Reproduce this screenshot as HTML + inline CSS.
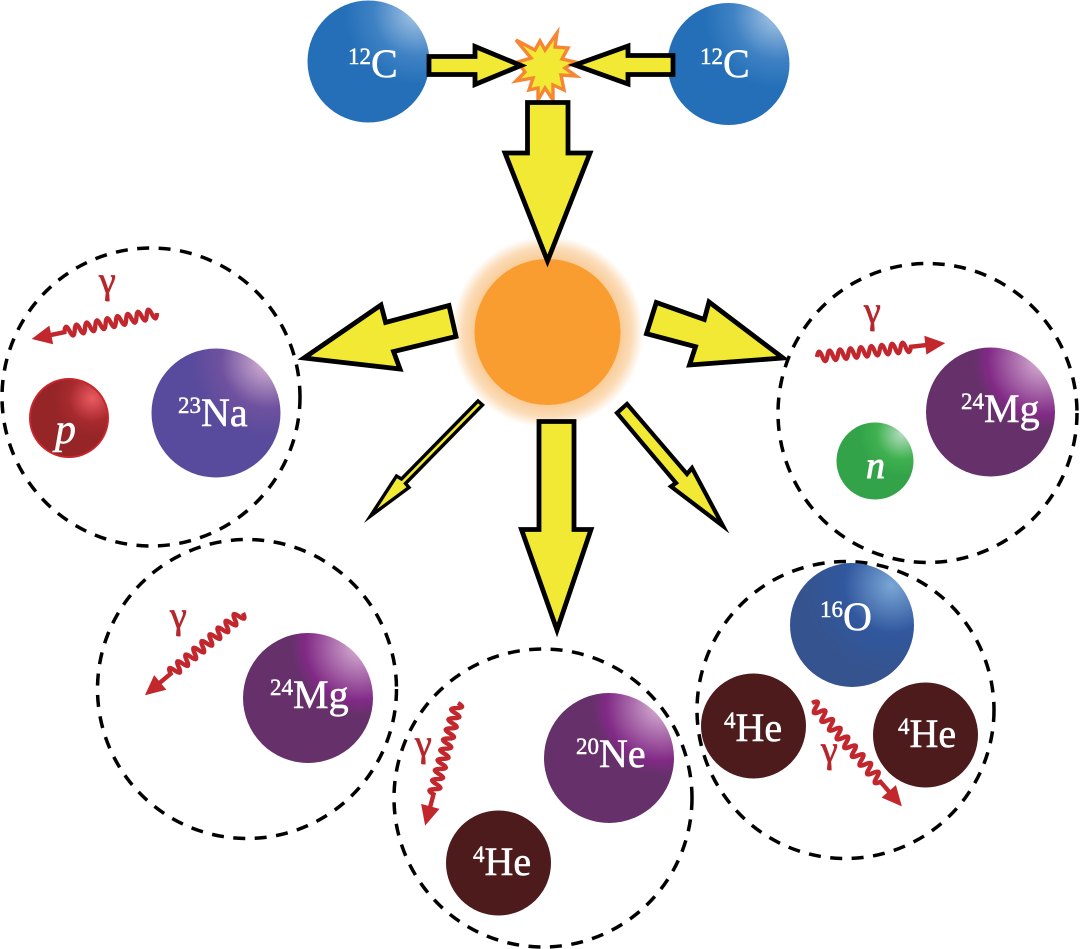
<!DOCTYPE html>
<html><head><meta charset="utf-8"><style>
html,body{margin:0;padding:0;background:#fff}
svg{display:block}
text{font-family:"Liberation Serif",serif}
.l{fill:#fff;stroke:#fff;stroke-width:.5;font-size:40px}
.l tspan.s{font-size:23px}
.g{fill:#b5272d;stroke:#b5272d;stroke-width:.7;font-size:38px}
.a{fill:#f1e933;stroke:#000;stroke-width:4.8;stroke-miterlimit:20;stroke-linejoin:miter}
.d{fill:none;stroke:#000;stroke-width:3.5;stroke-dasharray:12 9.5}
.w{fill:none;stroke:#c1272d;stroke-width:4.4}
.h{fill:#c1272d}
</style></head><body>
<svg width="1080" height="949" viewBox="0 0 1080 949" xmlns="http://www.w3.org/2000/svg">
<defs>
<radialGradient id="blue" cx=".9" cy=".1" r=".6"><stop offset="0" stop-color="#a9c7e6"/><stop offset=".6" stop-color="#3f82c4"/><stop offset="1" stop-color="#246fb8"/></radialGradient>
<radialGradient id="na" cx=".9" cy=".1" r=".6"><stop offset="0" stop-color="#d9b7d6"/><stop offset=".6" stop-color="#6f519f"/><stop offset="1" stop-color="#584a9c"/></radialGradient>
<radialGradient id="mg" cx=".9" cy=".1" r=".62"><stop offset="0" stop-color="#d9b5d6"/><stop offset=".68" stop-color="#812a86"/><stop offset=".85" stop-color="#66306a"/><stop offset="1" stop-color="#66306a"/></radialGradient>
<radialGradient id="grn" cx=".85" cy=".15" r=".55"><stop offset="0" stop-color="#b5dcc0"/><stop offset=".6" stop-color="#3fb14f"/><stop offset="1" stop-color="#33a34a"/></radialGradient>
<radialGradient id="red" cx=".8" cy=".25" r=".5"><stop offset="0" stop-color="#ea5a60"/><stop offset=".6" stop-color="#a72a2e"/><stop offset="1" stop-color="#952527"/></radialGradient>
<radialGradient id="oxy" cx=".82" cy=".18" r=".7"><stop offset="0" stop-color="#7aa7d6"/><stop offset=".55" stop-color="#31579e"/><stop offset="1" stop-color="#35548f"/></radialGradient>
<radialGradient id="glow" gradientUnits="userSpaceOnUse" cx="547.5" cy="332" r="96"><stop offset=".76" stop-color="#f9cc98"/><stop offset=".88" stop-color="#fbdcb8"/><stop offset="1" stop-color="#fff"/></radialGradient>
</defs>
<rect width="1080" height="949" fill="#fff"/>

<circle class="d" cx="151" cy="397" r="149"/>
<circle class="d" cx="927.5" cy="413" r="149.5"/>
<circle class="d" cx="845.5" cy="710" r="148.5"/>
<circle class="d" cx="543" cy="798" r="149"/>
<circle class="d" cx="247" cy="689" r="149.5"/>

<circle cx="368.5" cy="61.5" r="61" fill="url(#blue)"/>
<circle cx="728.5" cy="64" r="61" fill="url(#blue)"/>
<circle cx="547.5" cy="332" r="96" fill="url(#glow)"/>
<circle cx="547.5" cy="332" r="73" fill="#f99d31"/>

<polygon points="557,33 555,47 568,48 562,59 575,62 565,68 576,76 561,75 564,90 553,85 553,100 545,88 538,100 538,88 529,90 533,78 516,81 525,72 518,62 531,58 516,40 535,50 540,41 545,50" fill="#f1e933" stroke="#f58634" stroke-width="3.4" stroke-miterlimit="5"/>

<polygon class="a" points="429,56.5 475,56.5 475,46.5 521,65.5 475,84.5 475,74.5 429,74.5"/>
<polygon class="a" points="673,55.5 628,55.5 628,46 575,65 628,84 628,74.5 673,74.5"/>
<polygon class="a" points="527.5,102.5 568,102.5 568,153 590,153 547.5,261 505,153 527.5,153"/>
<polygon class="a" points="449,305.5 456,336.5 393.6,351.6 400,369 304,358 381,305 385.6,322.4"/>
<polygon class="a" points="656.3,302.5 646.5,333.7 695.5,346.7 689.5,365 783,358 709,302 704.3,319.5"/>
<polygon class="a" style="stroke-width:3.4" points="478,401 482.5,405 405.5,483.5 409,487.5 370.5,516 396.5,476 401.5,479"/>
<polygon class="a" points="539,421.5 574,421.5 574,529.5 591,529.5 557,630 521.5,529.5 539,529.5"/>
<polygon class="a" style="stroke-width:4.2" points="627,404 617,413 676,483 671,486.5 723,526 692,468 687,474"/>

<circle cx="216" cy="413" r="64.5" fill="url(#na)"/>
<circle cx="69" cy="418" r="39" fill="url(#red)" stroke="#c9252c" stroke-width="2"/>
<circle cx="990.5" cy="412" r="64.5" fill="url(#mg)"/>
<circle cx="875" cy="461" r="38.5" fill="url(#grn)"/>
<circle cx="852" cy="625" r="62" fill="url(#oxy)"/>
<circle cx="753.5" cy="726" r="52.5" fill="#4e1b1c"/>
<circle cx="925.5" cy="735" r="52.5" fill="#4e1b1c"/>
<circle cx="609" cy="758" r="65" fill="url(#mg)"/>
<circle cx="498.5" cy="863" r="52.5" fill="#4e1b1c"/>
<circle cx="308" cy="698" r="65" fill="url(#mg)"/>

<text class="l" x="348" y="77"><tspan class="s" dy="-13">12</tspan><tspan dy="13">C</tspan></text>
<text class="l" x="700" y="77"><tspan class="s" dy="-13">12</tspan><tspan dy="13">C</tspan></text>
<text class="l" x="178" y="426"><tspan class="s" dy="-13">23</tspan><tspan dy="13">Na</tspan></text>
<text class="l" x="961" y="422"><tspan class="s" dy="-13">24</tspan><tspan dy="13">Mg</tspan></text>
<text class="l" x="270" y="708"><tspan class="s" dy="-13">24</tspan><tspan dy="13">Mg</tspan></text>
<text class="l" x="576" y="767"><tspan class="s" dy="-13">20</tspan><tspan dy="13">Ne</tspan></text>
<text class="l" x="820" y="630"><tspan class="s" dy="-13">16</tspan><tspan dy="13">O</tspan></text>
<text class="l" x="724" y="741"><tspan class="s" dy="-13">4</tspan><tspan dy="13">He</tspan></text>
<text class="l" x="898" y="747"><tspan class="s" dy="-13">4</tspan><tspan dy="13">He</tspan></text>
<text class="l" x="473" y="875"><tspan class="s" dy="-13">4</tspan><tspan dy="13">He</tspan></text>
<text class="l" x="55" y="443" style="font-style:italic;font-size:42px">p</text>
<text class="l" x="866" y="478" style="font-style:italic;font-size:38px;stroke-width:.9">n</text>

<g transform="translate(157,313) rotate(168.3)"><path class="w" d="M0 0q2.6 -10 5.25 0t5.25 0t5.25 0t5.25 0t5.25 0t5.25 0t5.25 0t5.25 0t5.25 0t5.25 0t5.25 0t5.25 0t5.25 0t5.25 0t5.25 0t5.25 0t5.25 0t5.25 0L110 0"/><polygon class="h" points="108,-9.5 128,0 108,9.5"/></g>
<g transform="translate(817,357) rotate(-6.2)"><path class="w" d="M0 0q2.6 -10 5.25 0t5.25 0t5.25 0t5.25 0t5.25 0t5.25 0t5.25 0t5.25 0t5.25 0t5.25 0t5.25 0t5.25 0t5.25 0t5.25 0t5.25 0t5.25 0t5.25 0t5.25 0L110 0"/><polygon class="h" points="109,-9.5 129,0 109,9.5"/></g>
<g transform="translate(243,613) rotate(140)"><path class="w" d="M0 0q2.6 -10 5.25 0t5.25 0t5.25 0t5.25 0t5.25 0t5.25 0t5.25 0t5.25 0t5.25 0t5.25 0t5.25 0t5.25 0t5.25 0t5.25 0t5.25 0t5.25 0t5.25 0t5.25 0L110 0"/><polygon class="h" points="108,-9.5 128,0 108,9.5"/></g>
<g transform="translate(458,703) rotate(105)"><path class="w" d="M0 0q2.6 -10 5.25 0t5.25 0t5.25 0t5.25 0t5.25 0t5.25 0t5.25 0t5.25 0t5.25 0t5.25 0t5.25 0t5.25 0t5.25 0t5.25 0t5.25 0t5.25 0t5.25 0t5.25 0L110 0"/><polygon class="h" points="107,-9.5 127,0 107,9.5"/></g>
<g transform="translate(812,703) rotate(49)"><path class="w" d="M0 0q2.9 -10 5.8 0t5.8 0t5.8 0t5.8 0t5.8 0t5.8 0t5.8 0t5.8 0t5.8 0t5.8 0t5.8 0t5.8 0t5.8 0t5.8 0t5.8 0t5.8 0t5.8 0t5.8 0L120 0"/><polygon class="h" points="117,-9.5 137,0 117,9.5"/></g>

<text class="g" x="99" y="293">γ</text>
<text class="g" x="864" y="323">γ</text>
<text class="g" x="170" y="628">γ</text>
<text class="g" x="415" y="756">γ</text>
<text class="g" x="821" y="762">γ</text>
</svg>
</body></html>
